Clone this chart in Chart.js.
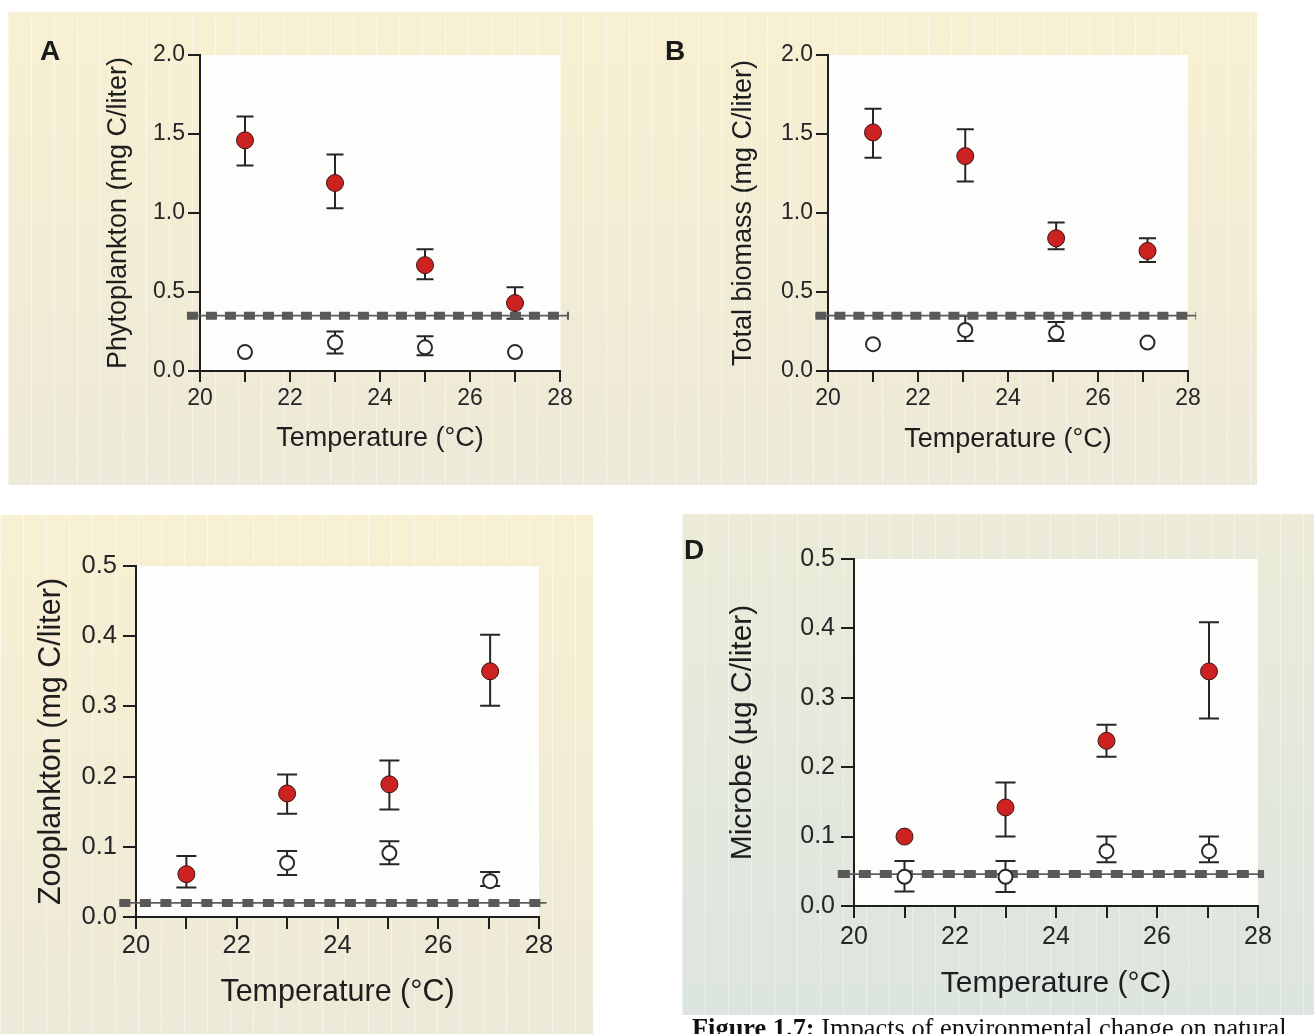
<!DOCTYPE html>
<html>
<head>
<meta charset="utf-8">
<title>Impacts of environmental change on plankton</title>
<script src="https://cdn.jsdelivr.net/npm/chart.js@4.4.1/dist/chart.umd.min.js"></script>
<style>
  html, body { margin: 0; padding: 0; background: #ffffff; }
  body { position: relative; width: 1314px; height: 1034px; overflow: hidden; font-family: "Liberation Sans", Arial, sans-serif; }
  .bg { position: absolute;
        background-image: repeating-linear-gradient(to right, rgba(255,255,255,0.5) 0 1px, rgba(255,255,255,0) 1px 23px),
                          linear-gradient(to bottom, #f8f0d2, #ece9d8); }
  #bgTop { left: 8px; top: 12px; width: 1249px; height: 473px; }
  #bgC { left: 0; top: 515px; width: 593px; height: 519px; }
  #bgD { left: 682px; top: 514px; width: 632px; height: 501px;
         background-image: repeating-linear-gradient(to right, rgba(255,255,255,0.45) 0 1px, rgba(255,255,255,0) 1px 23px),
                           linear-gradient(to bottom, #ecebd8, #dce5df); }
  canvas { position: absolute; }
  #cA { left: 8px; top: 12px; }
  #cB { left: 635px; top: 12px; }
  #cC { left: 0; top: 515px; }
  #cD { left: 682px; top: 514px; }
  .tag { position: absolute; font-weight: bold; font-size: 28px; line-height: 28px; color: #1a1a1a; }
  #caption { position: absolute; left: 692px; top: 1015px; font-family: "Liberation Serif", "Times New Roman", serif;
             font-size: 26.4px; line-height: 26px; color: #111; white-space: nowrap; }
</style>
</head>
<body>
<div class="bg" id="bgTop"></div>
<div class="bg" id="bgC"></div>
<div class="bg" id="bgD"></div>

<canvas id="cA" width="620" height="473"></canvas>
<canvas id="cB" width="622" height="473"></canvas>
<canvas id="cC" width="593" height="519"></canvas>
<canvas id="cD" width="632" height="501"></canvas>

<div class="tag" style="left:40px; top:37px;">A</div>
<div class="tag" style="left:665px; top:37px;">B</div>
<div class="tag" style="left:684px; top:536px;">D</div>
<div id="caption"><b>Figure 1.7:</b> Impacts of environmental change on natural</div>

<script>
// ---- data ----
// A: phytoplankton, mg C/liter
const tempsA = [21, 23, 25, 27];
const warmA = [1.46, 1.19, 0.67, 0.43];
const warmALo = [1.30, 1.03, 0.58, 0.33];
const warmAHi = [1.61, 1.37, 0.77, 0.53];
const ctrlA = [0.12, 0.18, 0.15, 0.12];
const ctrlALo = [null, 0.11, 0.10, null];
const ctrlAHi = [null, 0.25, 0.22, null];
const refA = 0.35;
const refSpanA = [19.71, 28.2];

// B: total biomass, mg C/liter
const tempsB = [21, 23.05, 25.07, 27.1];
const warmB = [1.51, 1.36, 0.84, 0.76];
const warmBLo = [1.35, 1.20, 0.77, 0.69];
const warmBHi = [1.66, 1.53, 0.94, 0.84];
const ctrlB = [0.17, 0.26, 0.24, 0.18];
const ctrlBLo = [null, 0.19, 0.19, null];
const ctrlBHi = [null, 0.35, 0.31, null];
const refB = 0.35;
const refSpanB = [19.72, 28.18];

// C: zooplankton, mg C/liter
const tempsC = [21, 23, 25.03, 27.03];
const warmC = [0.061, 0.176, 0.189, 0.350];
const warmCLo = [0.042, 0.147, 0.153, 0.301];
const warmCHi = [0.087, 0.203, 0.223, 0.402];
const ctrlC = [null, 0.077, 0.091, 0.051];
const ctrlCLo = [null, 0.060, 0.075, 0.044];
const ctrlCHi = [null, 0.094, 0.108, 0.064];
const refC = 0.02;
const refSpanC = [19.67, 28.15];

// D: microbes, ug C/liter
const tempsD = [21, 23, 25, 27.03];
const warmD = [0.100, 0.142, 0.238, 0.338];
const warmDLo = [null, 0.100, 0.215, 0.270];
const warmDHi = [null, 0.178, 0.261, 0.409];
const ctrlD = [0.042, 0.042, 0.079, 0.079];
const ctrlDLo = [0.021, 0.020, 0.063, 0.063];
const ctrlDHi = [0.065, 0.065, 0.100, 0.100];
const refD = 0.046;
const refSpanD = [19.68, 28.12];

// axis ticks
const xTicks = [20, 22, 24, 26, 28];
const xTitle = 'Temperature (°C)';

const FONT = '"Liberation Sans", Arial, Helvetica, sans-serif';
const INK = '#1e1e1e';

// white plotting area behind the points
const plotBg = {
    id: 'plotBg',
    beforeDraw(chart) {
        const { ctx, chartArea: a } = chart;
        ctx.save();
        ctx.fillStyle = '#fdfdfb';
        ctx.fillRect(a.left, a.top, a.right - a.left, a.bottom - a.top);
        ctx.restore();
    }
};

// vertical error bars with caps, positioned by the chart's scales
const errorBars = {
    id: 'errorBars',
    beforeDatasetsDraw(chart) {
        const { ctx, scales: { x, y } } = chart;
        ctx.save();
        ctx.strokeStyle = '#262626';
        ctx.lineWidth = 2;
        chart.data.datasets.forEach(ds => {
            if (!ds.errLow) return;
            ds.data.forEach((pt, i) => {
                const lo = ds.errLow[i], hi = ds.errHigh[i];
                if (pt.y == null || lo == null || hi == null) return;
                const px = x.getPixelForValue(pt.x);
                const yl = y.getPixelForValue(lo);
                const yh = y.getPixelForValue(hi);
                const c = ds.capHalf;
                ctx.beginPath();
                ctx.moveTo(px, yl); ctx.lineTo(px, yh);
                ctx.moveTo(px - c, yl); ctx.lineTo(px + c, yl);
                ctx.moveTo(px - c, yh); ctx.lineTo(px + c, yh);
                ctx.stroke();
            });
        });
        ctx.restore();
    }
};

function points(xs, ys) {
    return xs.map((x, i) => ({ x: x, y: ys[i] }));
}

function makePanel(id, s) {
    const refLine = [{ x: s.refSpan[0], y: s.ref }, { x: s.refSpan[1], y: s.ref }];
    new Chart(document.getElementById(id), {
        type: 'scatter',
        data: {
            datasets: [
                {
                    label: 'warmed',
                    data: points(s.temps, s.warm),
                    errLow: s.warmLo, errHigh: s.warmHi, capHalf: s.cap,
                    pointRadius: 8.5, pointHoverRadius: 8.5,
                    backgroundColor: '#cc2222', borderColor: '#3c1414', borderWidth: 1
                },
                {
                    label: 'control',
                    data: points(s.temps, s.ctrl),
                    errLow: s.ctrlLo, errHigh: s.ctrlHi, capHalf: s.cap,
                    pointRadius: 7, pointHoverRadius: 7,
                    backgroundColor: '#ffffff', borderColor: '#2a2a2a', borderWidth: 2
                },
                {
                    type: 'line', label: 'reference',
                    data: refLine,
                    borderColor: '#595959', borderWidth: 8, borderDash: s.dash,
                    pointRadius: 0, clip: false
                },
                {
                    type: 'line', label: 'reference line',
                    data: refLine,
                    borderColor: '#5e5e5e', borderWidth: 1.8,
                    pointRadius: 0, clip: false
                }
            ]
        },
        options: {
            responsive: false,
            animation: false,
            layout: { autoPadding: false, padding: s.pad },
            plugins: { legend: { display: false }, tooltip: { enabled: false } },
            scales: {
                x: {
                    type: 'linear', min: 20, max: 28,
                    afterFit: sc => { sc.height = 100; },
                    ticks: {
                        stepSize: 1, autoSkip: false, maxRotation: 0,
                        callback: v => xTicks.includes(v) ? String(v) : '',
                        font: { family: FONT, size: s.tickSize }, color: '#262626', padding: s.xTickPad
                    },
                    grid: { drawOnChartArea: false, drawTicks: true, tickLength: s.xTickLen, color: INK, lineWidth: 2 },
                    border: { display: true, color: INK, width: 2 },
                    title: { display: true, text: xTitle, color: INK,
                             font: { family: FONT, size: s.titleSize }, padding: { top: 0, bottom: s.xTitlePad } }
                },
                y: {
                    type: 'linear', min: 0, max: s.yMax,
                    afterFit: sc => { sc.width = s.yWidth; },
                    ticks: {
                        stepSize: s.yStep,
                        callback: v => v.toFixed(1),
                        font: { family: FONT, size: s.tickSize }, color: '#262626', padding: s.yTickPad
                    },
                    grid: { drawOnChartArea: false, drawTicks: true, tickLength: s.yTickLen, color: INK, lineWidth: 2 },
                    border: { display: true, color: INK, width: 2 },
                    title: { display: true, text: s.yTitle, color: INK,
                             font: { family: FONT, size: s.titleSize }, padding: { top: s.yTitlePad, bottom: 0 } }
                }
            }
        },
        plugins: [plotBg, errorBars]
    });
}

makePanel('cA', {
    temps: tempsA, warm: warmA, warmLo: warmALo, warmHi: warmAHi,
    ctrl: ctrlA, ctrlLo: ctrlALo, ctrlHi: ctrlAHi, ref: refA, refSpan: refSpanA,
    yMax: 2.0, yStep: 0.5, yTitle: 'Phytoplankton (mg C/liter)',
    pad: { left: 0, top: 43, right: 68, bottom: 14 }, yWidth: 192,
    tickSize: 23, titleSize: 27, xTickLen: 11, xTickPad: 3, yTickLen: 12, yTickPad: 3,
    xTitlePad: 16, yTitlePad: 94, cap: 8.5, dash: [11, 8]
});

makePanel('cB', {
    temps: tempsB, warm: warmB, warmLo: warmBLo, warmHi: warmBHi,
    ctrl: ctrlB, ctrlLo: ctrlBLo, ctrlHi: ctrlBHi, ref: refB, refSpan: refSpanB,
    yMax: 2.0, yStep: 0.5, yTitle: 'Total biomass (mg C/liter)',
    pad: { left: 0, top: 43, right: 69, bottom: 14 }, yWidth: 193,
    tickSize: 23, titleSize: 27, xTickLen: 11, xTickPad: 3, yTickLen: 12, yTickPad: 3,
    xTitlePad: 15, yTitlePad: 92, cap: 8.5, dash: [11, 8]
});

makePanel('cC', {
    temps: tempsC, warm: warmC, warmLo: warmCLo, warmHi: warmCHi,
    ctrl: ctrlC, ctrlLo: ctrlCLo, ctrlHi: ctrlCHi, ref: refC, refSpan: refSpanC,
    yMax: 0.5, yStep: 0.1, yTitle: 'Zooplankton (mg C/liter)',
    pad: { left: 0, top: 51, right: 54, bottom: 17 }, yWidth: 136,
    tickSize: 25.5, titleSize: 30.5, xTickLen: 12, xTickPad: 2, yTickLen: 13, yTickPad: 6,
    xTitlePad: 6, yTitlePad: 33, cap: 10, dash: [11, 9.5]
});

makePanel('cD', {
    temps: tempsD, warm: warmD, warmLo: warmDLo, warmHi: warmDHi,
    ctrl: ctrlD, ctrlLo: ctrlDLo, ctrlHi: ctrlDHi, ref: refD, refSpan: refSpanD,
    yMax: 0.5, yStep: 0.1, yTitle: 'Microbe (µg C/liter)',
    pad: { left: 0, top: 45, right: 56, bottom: 9 }, yWidth: 172,
    tickSize: 25, titleSize: 30, xTickLen: 12, xTickPad: 4, yTickLen: 13, yTickPad: 6,
    xTitlePad: 4, yTitlePad: 43, cap: 10, dash: [12, 9]
});
</script>
</body>
</html>
